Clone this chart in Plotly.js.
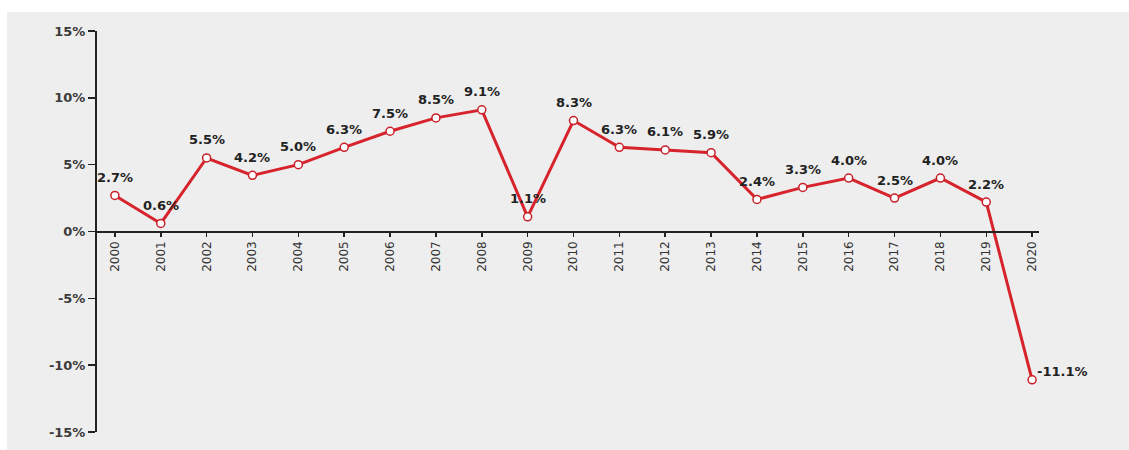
<!DOCTYPE html>
<html>
<head>
<meta charset="utf-8">
<script src="https://cdn.plot.ly/plotly-3.0.1.min.js"></script>
<style>
  html, body { margin: 0; padding: 0; background: #ffffff; }
  #chart { position: absolute; left: 7px; top: 12px; width: 1122px; height: 438px; }
</style>
</head>
<body>
<div id="chart"></div>
<script>
const years = ['2000','2001','2002','2003','2004','2005','2006','2007','2008','2009','2010',
               '2011','2012','2013','2014','2015','2016','2017','2018','2019','2020'];
const growth = [2.7, 0.6, 5.5, 4.2, 5.0, 6.3, 7.5, 8.5, 9.1, 1.1, 8.3,
                6.3, 6.1, 5.9, 2.4, 3.3, 4.0, 2.5, 4.0, 2.2, -11.1];
const yTicks = [-15, -10, -5, 0, 5, 10, 15];

const labelFont = {family: 'DejaVu Sans, sans-serif', size: 13, weight: 'bold', color: '#222222'};

const annotations = years.map((yr, i) => {
  const neg = growth[i] < 0;
  return {
    x: i, y: growth[i], xref: 'x', yref: 'y',
    text: growth[i].toFixed(1) + '%',
    showarrow: false,
    font: labelFont,
    xanchor: neg ? 'left' : 'center',
    yanchor: 'middle',
    xshift: neg ? 3 : 0,
    yshift: neg ? 8 : 18
  };
});

const trace = {
  x: years.map((_, i) => i),
  y: growth,
  type: 'scatter',
  mode: 'lines+markers',
  line: {color: '#d7232b', width: 3},
  marker: {size: 8, color: '#ffffff', line: {color: '#c8202a', width: 1.5}},
  cliponaxis: false,
  hoverinfo: 'skip'
};

const layout = {
  width: 1122, height: 438,
  margin: {l: 90, r: 90, t: 19, b: 18},
  paper_bgcolor: '#eeeeee',
  plot_bgcolor: '#eeeeee',
  showlegend: false,
  font: {family: 'DejaVu Sans, sans-serif', color: '#333333'},
  xaxis: {
    range: [-0.39, 20.15],
    tickmode: 'array',
    tickvals: years.map((_, i) => i),
    ticktext: years,
    tickangle: -90,
    tickfont: {family: 'DejaVu Sans, sans-serif', size: 12, color: '#333333'},
    tickson: 'boundaries',
    ticks: 'outside', ticklen: 4, tickwidth: 1.5, tickcolor: '#222222',
    showline: true, linecolor: '#222222', linewidth: 2,
    showgrid: false, zeroline: false,
    anchor: 'free', position: 0.5
  },
  yaxis: {
    range: [-15, 15],
    tickmode: 'array',
    tickvals: yTicks,
    ticktext: yTicks.map(v => v + '%'),
    tickfont: {family: 'DejaVu Sans, sans-serif', size: 13, weight: 'bold', color: '#3a3a3a'},
    ticks: 'outside', ticklen: 7, tickwidth: 1.5, tickcolor: '#222222',
    showline: true, linecolor: '#222222', linewidth: 2,
    showgrid: false, zeroline: false
  },
  annotations: annotations
};

Plotly.newPlot('chart', [trace], layout, {displayModeBar: false, staticPlot: true});
</script>
</body>
</html>
